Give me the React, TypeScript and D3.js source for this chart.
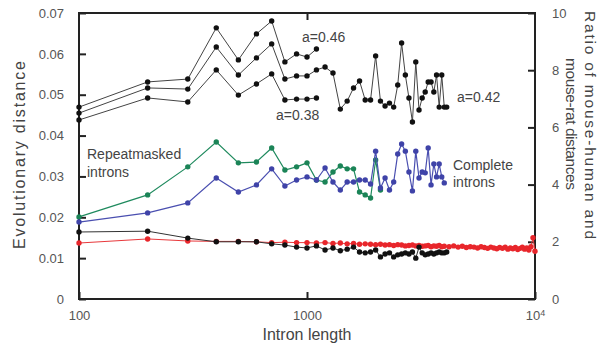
import React, { useEffect, useRef } from 'react';
import * as d3 from 'd3';

// --- bins (intron length, bp) ---
const binsShort = [100, 200, 300, 400, 500, 600, 700, 800, 900, 1000, 1100];
const binsA042 = [
  100, 200, 300, 400, 500, 600, 700, 800, 900, 1000, 1100, 1200, 1300, 1400, 1500, 1600, 1700, 1800,
  1900, 2000, 2100, 2200, 2300, 2400, 2500, 2600, 2700, 2800, 2900, 3000, 3100, 3200, 3300, 3400,
  3500, 3600, 3700, 3800, 3900, 4000, 4100,
];
const binsGreen = [
  100, 200, 300, 400, 500, 600, 700, 800, 900, 1000, 1100, 1200, 1300, 1400, 1500, 1600, 1700, 1800,
  1900, 2000, 2100,
];
const binsBlue = binsA042.slice(0, 40);
const binsBlack = binsA042;
const binsRed = [
  100, 200, 300, 400, 500, 600, 700, 800, 900, 1000, 1100, 1200, 1300, 1400, 1500, 1600, 1700, 1800,
  1900, 2000, 2100, 2200, 2300, 2400, 2500, 2600, 2700, 2800, 2900, 3000, 3100, 3200, 3300, 3400,
  3500, 3600, 3700, 3800, 3900, 4000, 4200, 4400, 4600, 4800, 5000, 5200, 5400, 5600, 5800, 6000,
  6200, 6400, 6600, 6800, 7000, 7200, 7400, 7600, 7800, 8000, 8200, 8400, 8600, 8800, 9000, 9200,
  9400, 9600, 9800, 10000,
];

// --- ratio series (right axis) ---
const ratioA046 = [6.71, 7.59, 7.69, 9.48, 8.36, 9.27, 9.72, 8.29, 8.57, 8.46, 8.74];
const ratioA038 = [6.26, 7.03, 6.89, 8.01, 7.13, 7.52, 7.87, 6.96, 6.99, 6.99, 7.03];
const ratioA042 = [
  6.5, 7.38, 7.34, 8.81, 7.83, 8.43, 8.92, 7.69, 7.8, 7.8, 8.01, 8.11, 7.9, 6.64, 6.92, 7.38, 7.62,
  6.96, 6.96, 8.5, 6.92, 6.75, 6.85, 6.71, 7.48, 8.95, 7.83, 7.03, 6.19, 8.29, 6.61, 7.03, 7.24, 7.59,
  7.59, 7.24, 7.83, 6.71, 7.83, 6.71, 6.71,
];
const ratioRepeatmasked = [
  2.87, 3.64, 4.62, 5.49, 4.76, 4.79, 5.28, 4.51, 4.62, 4.76, 4.16, 4.09, 4.44, 4.65, 4.55, 4.55,
  3.74, 3.64, 3.53, 4.86, 3.81,
];
const ratioComplete = [
  2.69, 3.01, 3.36, 4.23, 3.74, 3.99, 4.55, 3.95, 4.16, 4.27, 4.16, 4.58, 4.09, 3.81, 4.09, 4.09,
  4.16, 4.16, 4.02, 5.17, 3.88, 4.23, 3.81, 4.09, 5.07, 5.42, 5.17, 4.44, 3.78, 5.17, 4.23, 4.44,
  4.41, 5.28, 3.99, 4.72, 4.27, 4.72, 4.27, 4.06,
];

// --- evolutionary distance series (left axis) ---
const distBlack = [
  0.0164, 0.0166, 0.0149, 0.014, 0.014, 0.014, 0.0135, 0.0132, 0.0127, 0.0125, 0.013, 0.012, 0.0125,
  0.0118, 0.0122, 0.0127, 0.0115, 0.0113, 0.0115, 0.012, 0.0103, 0.011, 0.0113, 0.0103, 0.0108,
  0.011, 0.0113, 0.011, 0.0115, 0.01, 0.0127, 0.0113, 0.0108, 0.011, 0.0113, 0.011, 0.0113, 0.0115,
  0.0113, 0.0113, 0.0115,
];
const distRed = [
  0.0137, 0.0147, 0.0142, 0.0141, 0.0141, 0.014, 0.0138, 0.0139, 0.0138, 0.0138, 0.0137, 0.0138,
  0.0136, 0.0137, 0.0135, 0.0136, 0.0134, 0.0135, 0.0134, 0.0133, 0.0134, 0.0132, 0.0133, 0.0131,
  0.0133, 0.0132, 0.013, 0.0131, 0.0132, 0.013, 0.0131, 0.0129, 0.013, 0.0131, 0.0128, 0.013, 0.0129,
  0.0131, 0.0128, 0.0129, 0.0128, 0.013, 0.0127, 0.0129, 0.0126, 0.0128, 0.0127, 0.0125, 0.0128,
  0.0126, 0.0124, 0.0127, 0.0125, 0.0123, 0.0126, 0.0124, 0.0127, 0.0122, 0.0125, 0.0123, 0.0126,
  0.0121, 0.0124, 0.0127, 0.0122, 0.0125, 0.012, 0.0128, 0.015, 0.0117,
];

const leftTicks = [0, 0.01, 0.02, 0.03, 0.04, 0.05, 0.06, 0.07];
const rightTicks = [0, 2, 4, 6, 8, 10];
const xTicks = [100, 1000, 10000];

const App: React.FC = () => {
  const svgRef = useRef<SVGSVGElement | null>(null);

  useEffect(() => {
    if (!svgRef.current) return;
    const width = 598;
    const height = 352;
    const margin = { top: 13, right: 63, bottom: 53, left: 79 };
    const font = "'Liberation Sans', Arial, sans-serif";

    const svg = d3.select(svgRef.current);
    svg.selectAll('*').remove();

    const x = d3.scaleLog().domain([100, 10000]).range([margin.left, width - margin.right]);
    const yL = d3.scaleLinear().domain([0, 0.07]).range([height - margin.bottom, margin.top]);
    const yR = d3.scaleLinear().domain([0, 10]).range([height - margin.bottom, margin.top]);

    // frame
    svg.append('rect')
      .attr('x', margin.left).attr('y', margin.top)
      .attr('width', width - margin.left - margin.right)
      .attr('height', height - margin.top - margin.bottom)
      .attr('fill', 'none').attr('stroke', '#222').attr('stroke-width', 2);

    const styleAxis = (g: any) => {
      g.select('.domain').remove();
      g.selectAll('.tick line').attr('stroke', '#222').attr('stroke-width', 2);
      g.selectAll('.tick text').attr('fill', '#555').attr('font-size', 13).attr('font-family', font);
    };

    svg.append('g')
      .attr('transform', `translate(${margin.left},0)`)
      .call(d3.axisLeft(yL).tickValues(leftTicks).tickSize(-7).tickSizeOuter(0).tickPadding(15)
        .tickFormat((d: any) => (d === 0 ? '0' : d3.format('.2f')(d))))
      .call(styleAxis);

    svg.append('g')
      .attr('transform', `translate(${width - margin.right},0)`)
      .call(d3.axisRight(yR).tickValues(rightTicks).tickSize(-7).tickSizeOuter(0).tickPadding(17)
        .tickFormat((d: any) => String(d)))
      .call(styleAxis);

    const bottom = svg.append('g')
      .attr('transform', `translate(0,${height - margin.bottom})`)
      .call(d3.axisBottom(x).tickValues(xTicks).tickSize(-7).tickSizeOuter(0).tickPadding(12)
        .tickFormat((d: any) => (d === 10000 ? '10' : String(d))))
      .call(styleAxis);
    bottom.selectAll('.tick text')
      .filter((d: any) => d === 10000)
      .append('tspan').attr('font-size', 9).attr('dy', '-0.45em').text('4');

    svg.append('g')
      .attr('transform', `translate(0,${margin.top})`)
      .call(d3.axisTop(x).tickValues([1000]).tickSize(-7).tickSizeOuter(0).tickFormat(() => ''))
      .call(styleAxis);

    // series
    const drawSeries = (xs: number[], ys: number[], yScale: any, color: string, dot: string, lw = 1) => {
      const pts = xs.map((d, i) => [d, ys[i]] as [number, number]);
      const line = d3.line<[number, number]>().x(d => x(d[0])).y(d => yScale(d[1]));
      svg.append('path').datum(pts)
        .attr('d', line).attr('fill', 'none').attr('stroke', color).attr('stroke-width', lw);
      svg.append('g').selectAll('circle').data(pts).enter().append('circle')
        .attr('cx', d => x(d[0])).attr('cy', d => yScale(d[1])).attr('r', 2.7).attr('fill', dot);
    };

    drawSeries(binsRed, distRed, yL, '#e8383b', '#e8262b');
    drawSeries(binsBlack, distBlack, yL, '#333', '#111');
    drawSeries(binsGreen, ratioRepeatmasked, yR, '#1f8a5e', '#1b8457', 1.2);
    drawSeries(binsBlue, ratioComplete, yR, '#4a4fb0', '#3f43a8', 1.2);
    drawSeries(binsShort, ratioA046, yR, '#444', '#111');
    drawSeries(binsShort, ratioA038, yR, '#444', '#111');
    drawSeries(binsA042, ratioA042, yR, '#444', '#111');

    // annotations
    const note = (tx: number, ty: number, t: string) =>
      svg.append('text').attr('x', tx).attr('y', ty).attr('font-size', 14)
        .attr('font-family', font).attr('fill', '#444').text(t);
    note(302, 42, 'a=0.46');
    note(276, 120, 'a=0.38');
    note(457, 102, 'a=0.42');
    note(87, 159, 'Repeatmasked');
    note(87, 177, 'introns');
    note(453, 170, 'Complete');
    note(453, 187, 'introns');

    // axis titles
    svg.append('text')
      .attr('transform', 'translate(25,155) rotate(-90)')
      .attr('text-anchor', 'middle').attr('font-size', 16).attr('font-family', font)
      .attr('textLength', 188).attr('fill', '#444').text('Evolutionary distance');
    svg.append('text')
      .attr('x', 307).attr('y', 340)
      .attr('text-anchor', 'middle').attr('font-size', 16).attr('font-family', font)
      .attr('fill', '#444').text('Intron length');
    svg.append('text')
      .attr('transform', 'translate(585,125) rotate(90)')
      .attr('text-anchor', 'middle').attr('font-size', 15.5).attr('font-family', font)
      .attr('textLength', 228).attr('fill', '#444').text('Ratio of mouse-human and');
    svg.append('text')
      .attr('transform', 'translate(566,124) rotate(90)')
      .attr('text-anchor', 'middle').attr('font-size', 15.5).attr('font-family', font)
      .attr('textLength', 132).attr('fill', '#444').text('mouse-rat distances');
  }, []);

  return (
    <svg
      ref={svgRef}
      width={598}
      height={352}
      style={{ position: 'fixed', left: 0, top: 0, background: '#fff', display: 'block' }}
    />
  );
};

export default App;
